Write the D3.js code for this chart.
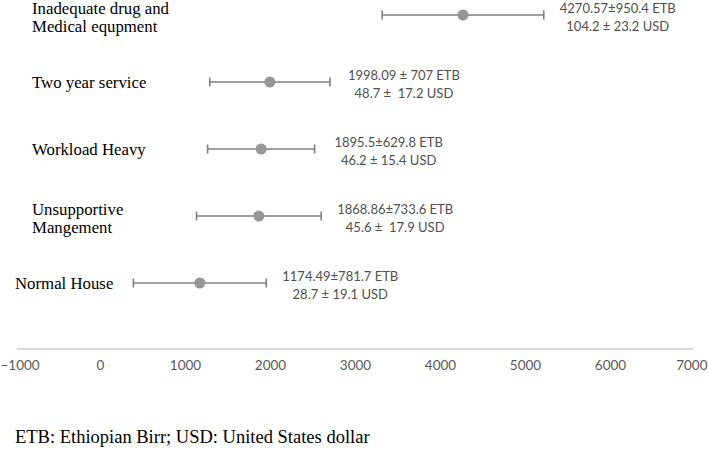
<!DOCTYPE html>
<html>
<head>
<meta charset="utf-8">
<script src="https://cdn.jsdelivr.net/npm/d3@7"></script>
<style>
  html, body { margin: 0; padding: 0; background: #fff; }
  svg { display: block; }
</style>
</head>
<body>
<svg id="chart"></svg>
<script>
// Chart data
const categories = [
  ['Inadequate drug and', 'Medical equpment'],
  ['Two year service'],
  ['Workload Heavy'],
  ['Unsupportive', 'Mangement'],
  ['Normal House']
];
const means = [4270.57, 1998.09, 1895.5, 1868.86, 1174.49];
const sds = [950.4, 707, 629.8, 733.6, 781.7];
const etbLabels = ['4270.57±950.4 ETB', '1998.09 ± 707 ETB', '1895.5±629.8 ETB', '1868.86±733.6 ETB', '1174.49±781.7 ETB'];
const usdLabels = ['104.2 ± 23.2 USD', '48.7 ±  17.2 USD', '46.2 ± 15.4 USD', '45.6 ±  17.9 USD', '28.7 ± 19.1 USD'];
const xTicks = [-1000, 0, 1000, 2000, 3000, 4000, 5000, 6000, 7000];
const footnote = 'ETB: Ethiopian Birr; USD: United States dollar';

const width = 708, height = 449;
const serif = '"Liberation Serif", "Times New Roman", serif';
const sans = 'Lato, Carlito, Calibri, sans-serif';

const svg = d3.select('#chart')
  .attr('width', width)
  .attr('height', height)
  .attr('viewBox', `0 0 ${width} ${height}`);

const x = d3.scaleLinear().domain([-1000, 7000]).range([15, 695]);
const y = d3.scalePoint().domain(d3.range(categories.length)).range([15, 283]);
const axisY = 349;

// axis line + labels
svg.append('line')
  .attr('x1', x(-1000) + 2).attr('x2', x(7000) - 2)
  .attr('y1', axisY).attr('y2', axisY)
  .attr('stroke', '#d9d9d9').attr('stroke-width', 2);

const axis = d3.axisBottom(x).tickValues(xTicks).tickSize(0).tickPadding(0).tickFormat(d3.format('d'));
const gAxis = svg.append('g').attr('transform', `translate(0, ${axisY + 11})`).call(axis);
gAxis.select('.domain').remove();
gAxis.selectAll('text')
  .attr('font-family', sans)
  .attr('font-size', 13.5)
  .attr('fill', '#595959')
  .attr('dy', '0.71em')
  .attr('text-anchor', d => d === -1000 ? 'start' : d === 7000 ? 'end' : 'middle')
  .attr('x', d => d === -1000 ? -x(-1000) : d === 7000 ? width - 1 - x(7000) : 0);

// rows
const rows = svg.selectAll('g.row')
  .data(means.map((m, i) => ({ i, mean: m, sd: sds[i] })))
  .enter()
  .append('g')
  .attr('class', 'row')
  .attr('transform', d => `translate(0, ${y(d.i)})`);

rows.append('line')
  .attr('x1', d => x(d.mean - d.sd))
  .attr('x2', d => x(d.mean + d.sd))
  .attr('stroke', '#7f7f7f').attr('stroke-width', 1.6);

[d => d.mean - d.sd, d => d.mean + d.sd].forEach(f => {
  rows.append('line')
    .attr('x1', d => x(f(d))).attr('x2', d => x(f(d)))
    .attr('y1', -4.5).attr('y2', 4.5)
    .attr('stroke', '#7f7f7f').attr('stroke-width', 1.6);
});

rows.append('circle')
  .attr('cx', d => x(d.mean))
  .attr('r', 5.5)
  .attr('fill', '#969696');

// value labels
const vlab = rows.append('text')
  .attr('font-family', sans)
  .attr('font-size', 13)
  .attr('fill', '#505050')
  .attr('text-anchor', 'middle')
  .style('white-space', 'pre');
vlab.append('tspan')
  .attr('x', d => x(d.mean + d.sd) + 74)
  .attr('y', -7).attr('dy', '0.35em')
  .text(d => etbLabels[d.i]);
vlab.append('tspan')
  .attr('x', d => x(d.mean + d.sd) + 74)
  .attr('y', 11).attr('dy', '0.35em')
  .text(d => usdLabels[d.i]);

// category labels
const clab = rows.append('text')
  .attr('font-family', serif)
  .attr('font-size', 16.8)
  .attr('fill', '#000');
clab.selectAll('tspan')
  .data(d => categories[d.i].map((t, k, arr) => ({ t, k, n: arr.length, i: d.i })))
  .enter()
  .append('tspan')
  .attr('x', d => d.i === categories.length - 1 ? 15 : 32)
  .attr('y', d => d.n === 1 ? 0 : (d.k === 0 ? -7 : 11.5))
  .attr('dy', '0.35em')
  .text(d => d.t);

// footnote
svg.append('text')
  .attr('x', 15).attr('y', 437).attr('dy', '0.35em')
  .attr('font-family', serif)
  .attr('font-size', 18.5)
  .attr('fill', '#000')
  .text(footnote);
</script>
</body>
</html>
